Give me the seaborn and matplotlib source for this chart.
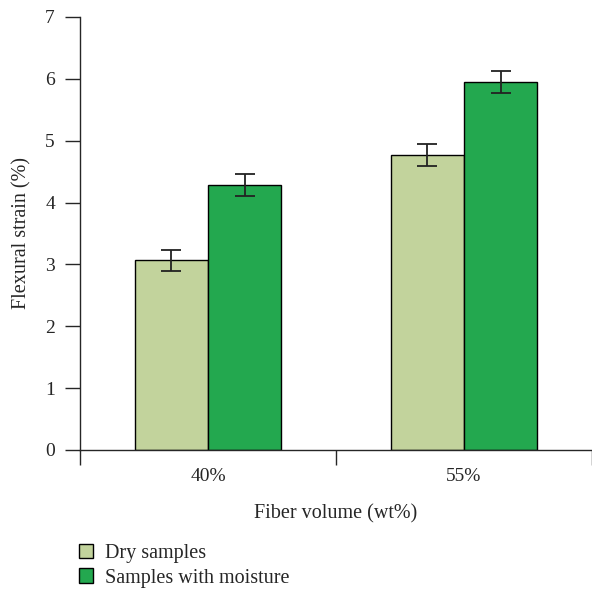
import matplotlib
matplotlib.use('Agg')
import matplotlib.pyplot as plt
import seaborn as sns
import pandas as pd
import numpy as np

groups = ['40%', '55%']
series = ['Dry samples', 'Samples with moisture']
dry = [3.07, 4.77]
moist = [4.28, 5.95]
dry_err = [0.17, 0.18]
moist_err = [0.175, 0.175]
colors = ['#c2d39c', '#23a84f']

df = pd.DataFrame({
    'group': groups * 2,
    'series': [series[0]] * 2 + [series[1]] * 2,
    'value': dry + moist,
    'err': dry_err + moist_err,
})

sns.set_style('ticks')
plt.rcParams['font.family'] = ['Liberation Serif', 'DejaVu Serif']

fig = plt.figure(figsize=(5.92, 5.91), dpi=100)
ax = fig.add_axes([80/592, 1 - 450/591, 1 - 80/592, (450 - 17)/591])

sns.barplot(data=df, x='group', y='value', hue='series', order=groups,
            hue_order=series, palette=colors, saturation=1, width=0.574,
            gap=0, errorbar=None, edgecolor='black', linewidth=1.0, ax=ax,
            legend=True)

# error bars placed on the bar centres
for cont, s in zip(ax.containers, series):
    sub = df[df['series'] == s].set_index('group').loc[groups]
    xs = [p.get_x() + p.get_width() / 2 for p in cont.patches]
    ax.errorbar(xs, sub['value'], yerr=sub['err'], fmt='none',
                ecolor='#222222', elinewidth=1.3, capsize=7.5, capthick=1.3)

ax.set_ylim(0, 7)
ax.set_xlim(-0.5, 1.5)
ax.set_yticks(range(0, 8))
ax.tick_params(axis='y', length=11, width=1.0, labelsize=14, pad=7)
ax.tick_params(axis='x', which='major', length=0, labelsize=14, pad=13)
ax.set_xticks([-0.5, 0.5, 1.5], minor=True)
ax.tick_params(axis='x', which='minor', length=11, width=1.0)

for sp in ['top', 'right']:
    ax.spines[sp].set_visible(False)
for sp in ['left', 'bottom']:
    ax.spines[sp].set_linewidth(1.0)

ax.set_xlabel('Fiber volume (wt%)', fontsize=14.5, labelpad=14)
ax.set_ylabel('Flexural strain (%)', fontsize=14.5, labelpad=10)

handles, labels = ax.get_legend_handles_labels()
ax.legend_.remove()
fig.legend(handles, labels, loc='upper left', bbox_to_anchor=(0.117, 0.096),
           frameon=False, fontsize=14.5, handlelength=0.7, handleheight=0.7,
           handletextpad=0.55, labelspacing=0.25, borderpad=0)

fig.savefig('out.png', dpi=100)
